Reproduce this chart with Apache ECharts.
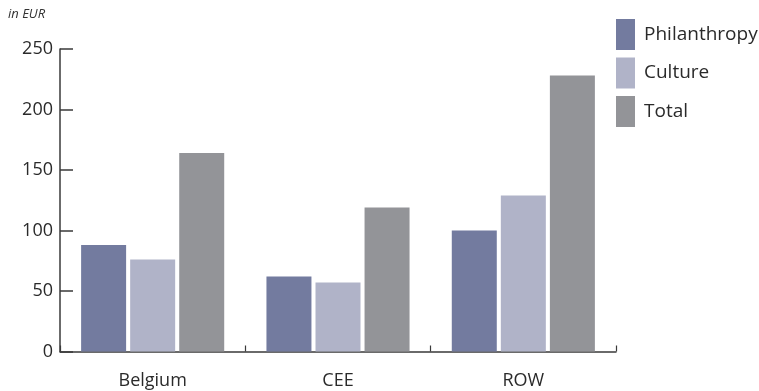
<!DOCTYPE html>
<html>
<head>
<meta charset="utf-8">
<script src="https://cdn.jsdelivr.net/npm/echarts@6/dist/echarts.min.js"></script>
<style>
  html, body { margin: 0; padding: 0; background: #fff; }
  #chart { width: 759px; height: 391px; }
</style>
</head>
<body>
<div id="chart"></div>
<script>
// Regions and spending per region (EUR)
const regions = ['Belgium', 'CEE', 'ROW'];
const philanthropy = [88, 62, 100];
const culture = [76, 57, 129];
const total = [164, 119, 228];
const yTicks = [0, 50, 100, 150, 200, 250];

const FONT = '"Open Sans", Lato, sans-serif';
const axisColor = '#3a3a3a';

const chart = echarts.init(document.getElementById('chart'), null, { renderer: 'canvas' });

chart.setOption({
  animation: false,
  backgroundColor: '#ffffff',
  textStyle: { fontFamily: FONT },
  title: {
    text: 'in EUR',
    left: 3,
    top: 3,
    textStyle: { fontSize: 13, fontStyle: 'italic', fontWeight: 'normal', color: '#333', fontFamily: FONT }
  },
  legend: {
    orient: 'vertical',
    left: 616,
    top: 19,
    padding: 0,
    itemWidth: 19,
    itemHeight: 31,
    itemGap: 7.5,
    icon: 'rect',
    textStyle: { fontSize: 19, color: '#2a2a2a', fontFamily: FONT, padding: [0, 0, 0, 4] },
    data: ['Philanthropy', 'Culture', 'Total']
  },
  grid: { left: 60, top: 49, width: 556, height: 302.5, containLabel: false },
  xAxis: {
    type: 'category',
    data: regions,
    axisLine: { show: true, lineStyle: { color: axisColor, width: 1.5 } },
    axisTick: { show: true, inside: true, length: 6, alignWithLabel: false, lineStyle: { color: axisColor, width: 1.2 } },
    axisLabel: { fontSize: 18, color: '#2a2a2a', margin: 20, fontFamily: FONT },
    splitLine: { show: false }
  },
  yAxis: {
    type: 'value',
    min: 0,
    max: yTicks[yTicks.length - 1],
    interval: yTicks[1] - yTicks[0],
    axisLine: { show: true, lineStyle: { color: axisColor, width: 1.5 } },
    axisTick: { show: true, inside: true, length: 13, lineStyle: { color: axisColor, width: 1.5 } },
    axisLabel: { fontSize: 18, color: '#2a2a2a', margin: 7, fontFamily: FONT },
    splitLine: { show: false }
  },
  series: [
    { name: 'Philanthropy', type: 'bar', data: philanthropy, barWidth: 45, barGap: '9%', itemStyle: { color: '#737b9f' } },
    { name: 'Culture', type: 'bar', data: culture, barWidth: 45, barGap: '9%', itemStyle: { color: '#b0b3c8' } },
    { name: 'Total', type: 'bar', data: total, barWidth: 45, barGap: '9%', itemStyle: { color: '#939498' } }
  ]
});
</script>
</body>
</html>
